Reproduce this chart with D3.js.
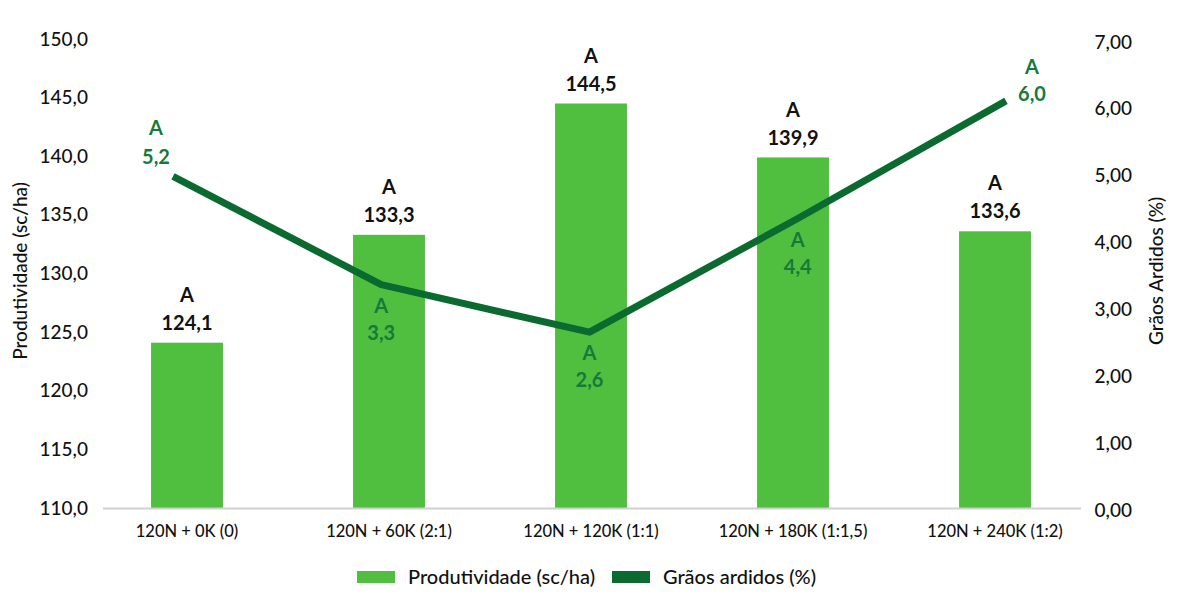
<!DOCTYPE html>
<html>
<head>
<meta charset="utf-8">
<script src="https://cdn.jsdelivr.net/npm/d3@7"></script>
<style>
  html, body { margin: 0; padding: 0; background: #fff; }
  svg { display: block; font-family: Lato, "Noto Sans", sans-serif; }
</style>
</head>
<body>
<svg id="chart" width="1177" height="612"></svg>
<script>
// ---- data ----
const categories = ["120N + 0K (0)", "120N + 60K (2:1)", "120N + 120K (1:1)", "120N + 180K (1:1,5)", "120N + 240K (1:2)"];
const productivity = [124.1, 133.3, 144.5, 139.9, 133.6];
const productivityLetters = ["A", "A", "A", "A", "A"];
const grains = [4.99, 3.37, 2.66, 4.36, 6.12];
const grainsLabels = ["5,2", "3,3", "2,6", "4,4", "6,0"];
const grainsLetters = ["A", "A", "A", "A", "A"];
const grainsLabelSide = ["above-left", "below", "below", "below", "above-right"];
const leftTicks = [110, 115, 120, 125, 130, 135, 140, 145, 150];
const rightTicks = [0, 1, 2, 3, 4, 5, 6, 7];
const seriesNames = ["Produtividade (sc/ha)", "Grãos ardidos (%)"];
const leftTitle = "Produtividade (sc/ha)";
const rightTitle = "Grãos Ardidos (%)";

// ---- style ----
const barColor = "#50bf3f";
const lineColor = "#0b6a30";
const lineLabelColor = "#167a3a";
const textColor = "#111";

const locale = d3.formatLocale({decimal: ",", thousands: ".", grouping: [3], currency: ["", ""]});
const f1 = locale.format(".1f");
const f2 = locale.format(".2f");

const svg = d3.select("#chart");

const x = d3.scaleBand().domain(categories).range([86, 1096]).paddingInner(0.644).paddingOuter(0.322);
const xLine = d3.scalePoint().domain(categories).range([173, 1006]);
const yL = d3.scaleLinear().domain([110, 150]).range([508, 39]);
const yR = d3.scaleLinear().domain([0, 7]).range([510, 42]);

// left axis
const gL = svg.append("g").attr("transform", "translate(88,0)")
  .call(d3.axisLeft(yL).tickValues(leftTicks).tickFormat(f1).tickSize(0).tickPadding(0));
gL.select(".domain").remove();
gL.selectAll("text").attr("font-size", 19).attr("font-weight", 500).attr("fill", textColor).attr("font-family", "Lato, sans-serif");

// right axis
const gR = svg.append("g").attr("transform", "translate(1132,0)")
  .call(d3.axisLeft(yR).tickValues(rightTicks).tickFormat(f2).tickSize(0).tickPadding(0));
gR.select(".domain").remove();
gR.selectAll("text").attr("font-size", 19).attr("font-weight", 500).attr("fill", textColor).attr("font-family", "Lato, sans-serif");

// axis titles
svg.append("text").attr("transform", `translate(27,${271}) rotate(-90)`)
  .attr("text-anchor", "middle").attr("font-size", 19).attr("font-weight", 500).attr("fill", textColor).text(leftTitle);
svg.append("text").attr("transform", `translate(1163,${271}) rotate(-90)`)
  .attr("text-anchor", "middle").attr("font-size", 19).attr("font-weight", 500).attr("fill", textColor).text(rightTitle);

// bars
svg.append("g").selectAll("rect").data(categories).join("rect")
  .attr("x", d => x(d)).attr("width", x.bandwidth())
  .attr("y", (d, i) => yL(productivity[i]))
  .attr("height", (d, i) => yL(110) - yL(productivity[i]))
  .attr("fill", barColor);

// x axis
const gX = svg.append("g").attr("transform", `translate(0,${yL(110)})`)
  .call(d3.axisBottom(x).tickSize(0).tickPadding(17));
gX.select(".domain").attr("d", `M103,0.5H1081`).attr("stroke", "#d0d0d0").attr("stroke-width", 2);
gX.selectAll("text").attr("font-size", 16.5).attr("font-weight", 500).attr("fill", textColor).attr("font-family", "Lato, sans-serif");

// bar labels
const bl = svg.append("g").attr("text-anchor", "middle").attr("fill", textColor).attr("font-size", 20).attr("font-weight", 700);
categories.forEach((c, i) => {
  const cx = x(c) + x.bandwidth() / 2;
  const top = yL(productivity[i]);
  bl.append("text").attr("x", cx).attr("y", top - 48).attr("dy", "0.36em").text(productivityLetters[i]);
  bl.append("text").attr("x", cx).attr("y", top - 20).attr("dy", "0.36em").text(f1(productivity[i]));
});

// line
const line = d3.line().x((d, i) => xLine(categories[i])).y(d => yR(d));
svg.append("path").datum(grains).attr("d", line)
  .attr("fill", "none").attr("stroke", lineColor).attr("stroke-width", 7).attr("stroke-linejoin", "round");

// line labels
const ll = svg.append("g").attr("text-anchor", "middle").attr("fill", lineLabelColor).attr("font-size", 20).attr("font-weight", 700);
grains.forEach((g, i) => {
  const px = xLine(categories[i]);
  const py = yR(g);
  let dx = 0, yA, yV;
  const side = grainsLabelSide[i];
  if (side === "below") { yA = py + 21; yV = py + 48; }
  else if (side === "above-left") { dx = -17; yA = py - 49; yV = py - 20; }
  else { dx = 26; yA = py - 34; yV = py - 7; }
  ll.append("text").attr("x", px + dx).attr("y", yA).attr("dy", "0.36em").text(grainsLetters[i]);
  ll.append("text").attr("x", px + dx).attr("y", yV).attr("dy", "0.36em").text(grainsLabels[i]);
});

// legend
const leg = svg.append("g").attr("font-size", 20).attr("font-weight", 500).attr("fill", textColor);
const l1 = leg.append("g").attr("transform", "translate(357,577)");
l1.append("rect").attr("x", 0).attr("y", -6).attr("width", 38).attr("height", 12).attr("fill", barColor);
l1.append("text").attr("x", 51).attr("dy", "0.36em").text(seriesNames[0]);
const l2 = leg.append("g").attr("transform", "translate(612,577)");
l2.append("rect").attr("x", 0).attr("y", -6).attr("width", 38).attr("height", 12).attr("fill", lineColor);
l2.append("text").attr("x", 51).attr("dy", "0.36em").text(seriesNames[1]);
</script>
</body>
</html>
